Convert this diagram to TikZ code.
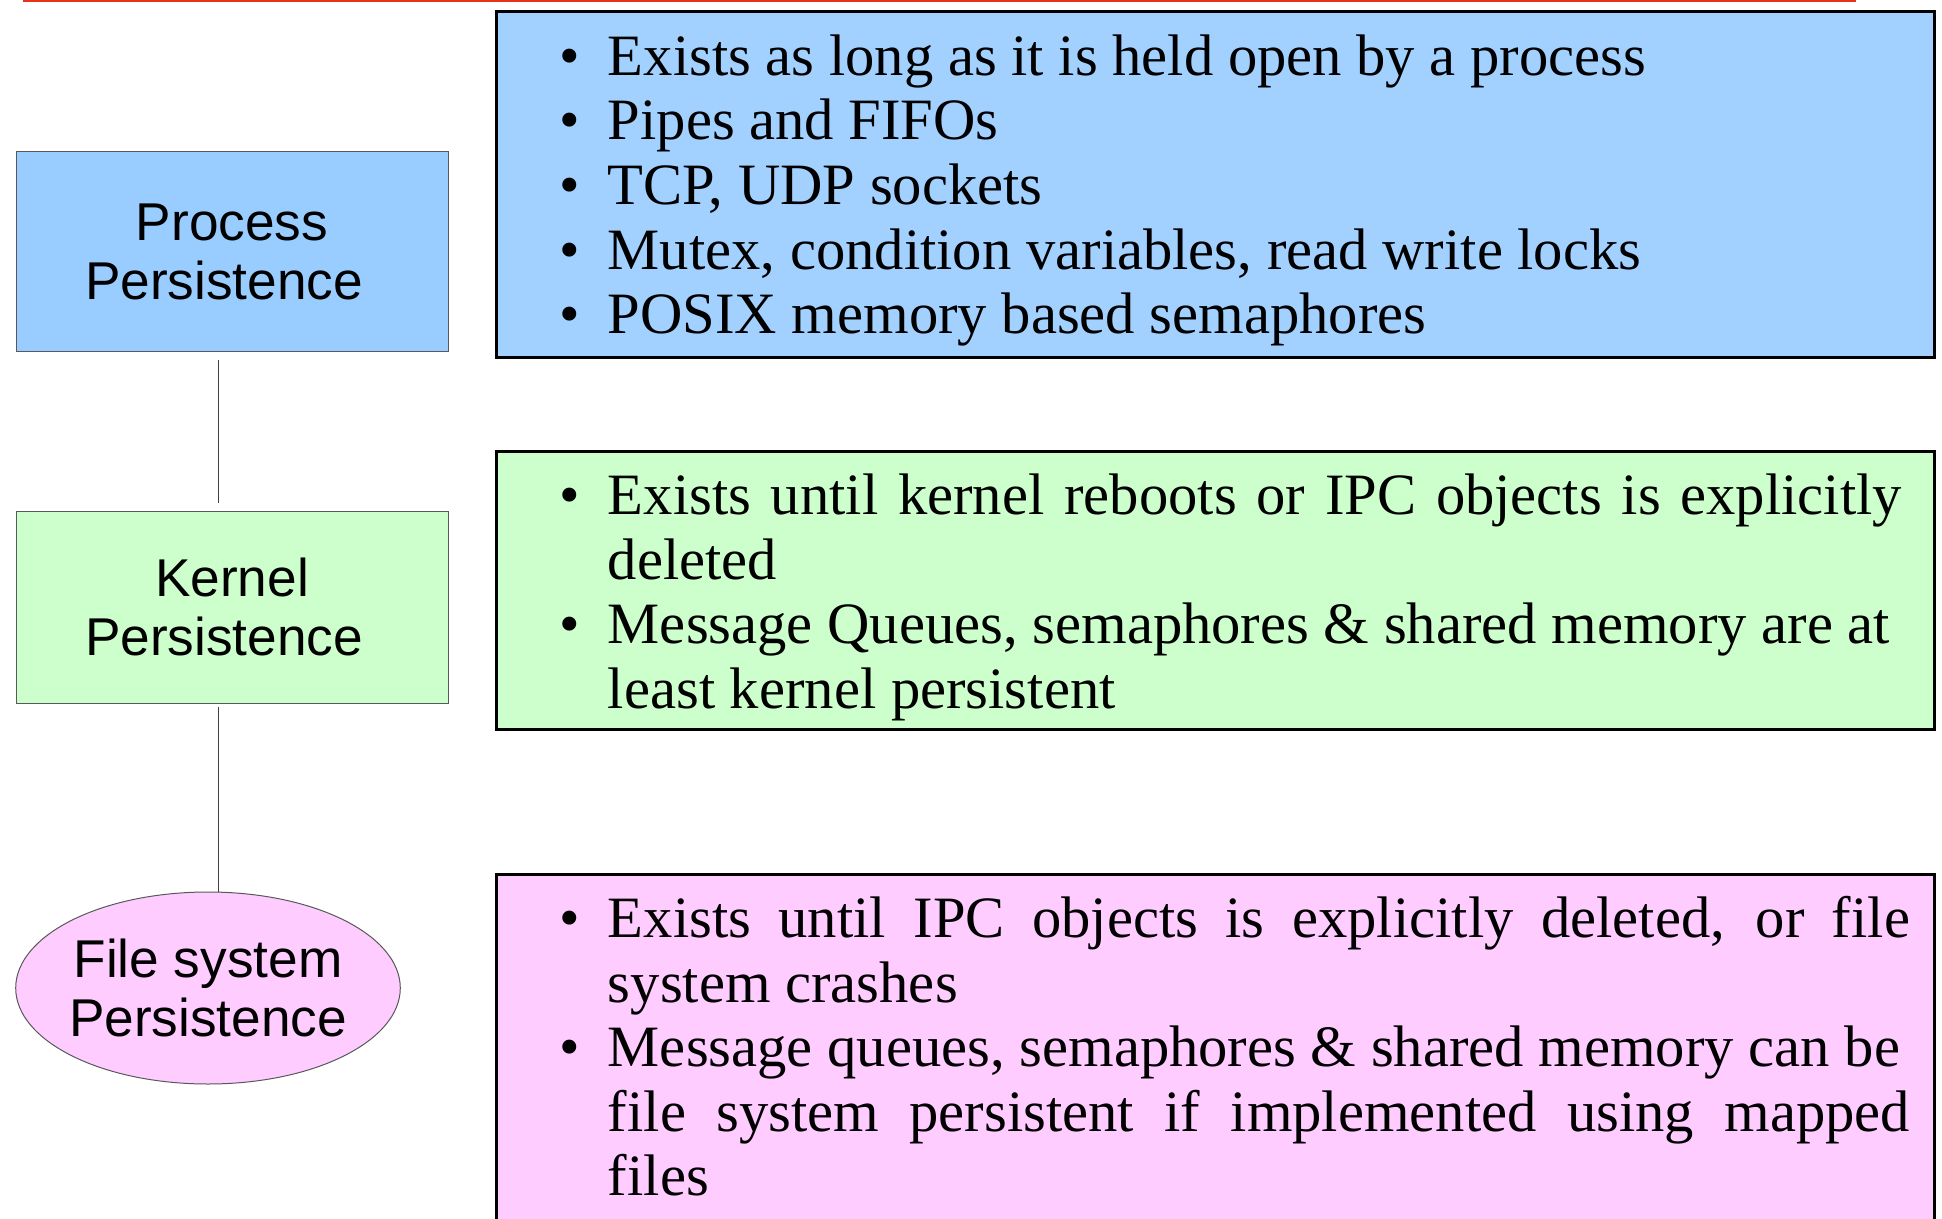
\documentclass[tikz,border=0pt]{standalone}
\usepackage{fontspec}
\setmainfont{Liberation Serif}
\newfontfamily\labelfont{Liberation Sans}
\usetikzlibrary{shapes.geometric}

\definecolor{topline}{HTML}{E6331A}
\definecolor{procfill}{HTML}{99CCFF}
\definecolor{procnote}{HTML}{A2D0FF}
\definecolor{kernfill}{HTML}{CCFFCC}
\definecolor{fsfill}{HTML}{FFCCFF}

% bullet item start, continuation indent, and a stretched (justified) line
\newcommand\itembul{\makebox[24pt][l]{\textbullet}}
\newcommand\itemcont{\hspace*{24pt}}
\newcommand\fullline[2]{\makebox[#1][s]{#2}}

\begin{document}
\begin{tikzpicture}[x=0.5pt,y=-0.5pt,
  level/.style={draw=black!65, line width=0.5pt, inner sep=0pt, align=center,
    font=\labelfont\fontsize{26.6pt}{29.5pt}\selectfont},
  note/.style={draw=black, line width=1.5pt, inner sep=0pt},
  notetext/.style={anchor=north west, inner sep=0pt, align=left,
    font=\fontsize{29.3pt}{32.3pt}\selectfont},
  link/.style={draw=black!75, line width=0.5pt}]

\useasboundingbox (0,0) rectangle (1942,1219);
\clip (0,0) rectangle (1942,1219);

% rule along the top edge
\fill[topline] (23,0) rectangle (1856,2.5);

% persistence levels
\node[level, fill=procfill, minimum width=216pt, minimum height=100pt] (proc) at (232,252) {Process\\Persistence\hspace*{8pt}};
\node[level, fill=kernfill, minimum width=216pt, minimum height=96pt] (kern) at (232,607) {Kernel\\Persistence\hspace*{8pt}};
\node[level, ellipse, inner xsep=-1.5pt, fill=fsfill, minimum width=192pt, minimum height=96pt] (fs) at (208,988) {File system\\Persistence};

\coordinate (lx) at (218,0);
\draw[link] ([yshift=-4pt]proc.south -| lx) -- ([yshift=4pt]kern.north -| lx);
\draw[link] ([yshift=-1.5pt]kern.south -| lx) -- (fs.north -| lx);

% description boxes
\node[note, fill=procnote, minimum width=719pt, minimum height=173pt] (procbox) at (1215.5,184.5) {};
\node[note, fill=kernfill, minimum width=719pt, minimum height=139pt] (kernbox) at (1215.5,590.5) {};
\node[note, fill=fsfill, minimum width=719pt, minimum height=177pt] (fsbox) at (1215.5,1051.5) {};

\node[notetext] (proctext) at (559.5,27) {\rule{0pt}{24pt}\itembul Exists as long as it is held open by a process\\
\itembul Pipes and FIFOs\\
\itembul TCP, UDP sockets\\
\itembul Mutex, condition variables, read write locks\\
\itembul POSIX memory based semaphores};

\node[notetext] (kerntext) at (559.5,466) {\rule{0pt}{24pt}\itembul\fullline{647pt}{Exists until kernel reboots or IPC objects is explicitly}\\
\itemcont deleted\\
\itembul Message Queues, semaphores \& shared memory are at\\
\itemcont least kernel persistent};

\node[notetext] (fstext) at (559.5,889) {\rule{0pt}{24pt}\itembul\fullline{651pt}{Exists until IPC objects is explicitly deleted, or file}\\
\itemcont system crashes\\
\itembul Message queues, semaphores \& shared memory can be\\
\itemcont\fullline{651pt}{file system persistent if implemented using mapped}\\
\itemcont files};
\end{tikzpicture}
\end{document}
